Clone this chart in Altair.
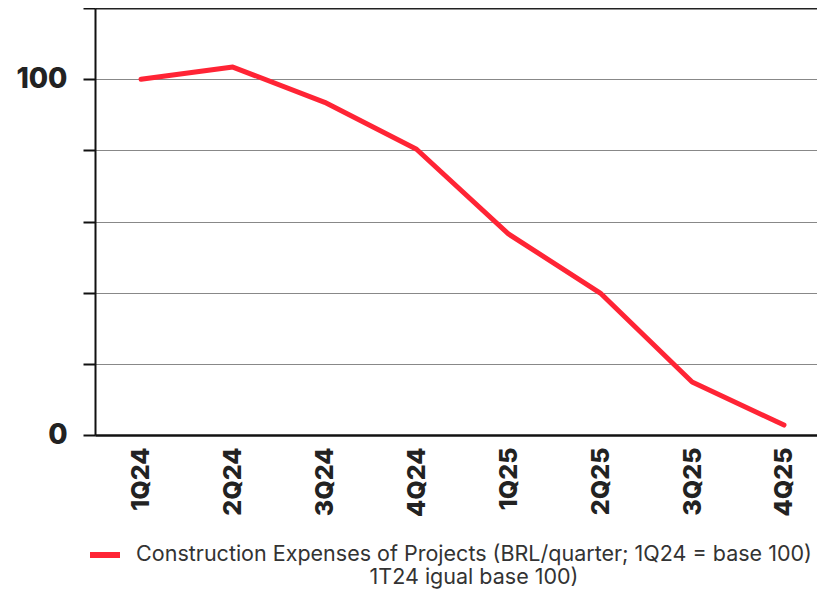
import altair as alt
import pandas as pd

quarters = ["1Q24", "2Q24", "3Q24", "4Q24", "1Q25", "2Q25", "3Q25", "4Q25"]
values = [100.0, 103.4, 93.5, 80.3, 56.5, 39.9, 14.9, 2.8]
series_name = "Construction Expenses of Projects (BRL/quarter; 1Q24 = base 100)|1T24 igual base 100)"

df = pd.DataFrame({"quarter": quarters, "value": values, "series": [series_name] * len(quarters)})

FONT = "Inter"

chart = alt.Chart(df).mark_line(strokeWidth=5, strokeCap="round", strokeJoin="round").encode(
    x=alt.X("quarter:N", sort=quarters, title=None,
            scale=alt.Scale(type="point", padding=0.43, align=0.582),
            axis=alt.Axis(labelAngle=-90, labelFont=FONT, labelFontWeight=800, labelFontSize=25,
                          labelColor="#222", labelPadding=12, ticks=False, domainColor="#111",
                          domainWidth=2.5, grid=False, labelBaseline="middle", labelAlign="right")),
    y=alt.Y("value:Q", title=None,
            scale=alt.Scale(domain=[0, 120], nice=False),
            axis=alt.Axis(values=[0, 20, 40, 60, 80, 100, 120],
                          labelExpr="datum.value == 0 || datum.value == 100 ? datum.label : ''",
                          labelFont=FONT, labelFontWeight=800, labelFontSize=28, labelColor="#222",
                          labelPadding=16, tickSize=12, tickColor="#111", tickWidth=2,
                          domainColor="#111", domainWidth=2,
                          gridColor=alt.condition("datum.value == 120", alt.value("#222"), alt.value("#888")),
                          gridWidth=alt.condition("datum.value == 120", alt.value(2), alt.value(1.2)))),
    color=alt.Color("series:N", title=None,
                    scale=alt.Scale(range=["#FF2435"]),
                    legend=alt.Legend(orient="none", legendX=-8, legendY=529, symbolType="stroke",
                                      symbolStrokeWidth=6, symbolSize=900, labelFont=FONT,
                                      labelFontSize=21.5, labelColor="#333", labelAlign="center",
                                      labelOffset=351, labelLimit=0,
                                      labelExpr="split(datum.label, '|')")),
).properties(
    width=722, height=427,
    autosize=alt.AutoSizeParams(type="none"),
    padding={"left": 87, "top": 0, "right": 0, "bottom": 154},
).configure_view(stroke=None).configure_axis(labelOverlap=False).configure(
    style={"guide-label": {"lineHeight": 23}}
)

chart.save("out.html", embed_options={"renderer": "svg", "actions": False})
